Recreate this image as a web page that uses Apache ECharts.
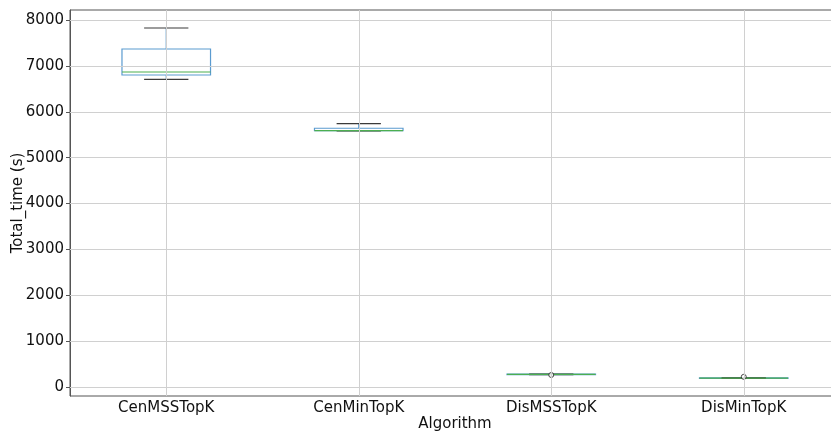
<!DOCTYPE html>
<html>
<head>
<meta charset="utf-8">
<script src="https://cdn.jsdelivr.net/npm/echarts@6/dist/echarts.min.js"></script>
<style>
  html, body { margin: 0; padding: 0; background: #fff; }
  #chart { width: 831px; height: 432px; }
</style>
</head>
<body>
<div id="chart"></div>
<script>
// Total run time per algorithm (seconds), five-number summaries
const categories = ['CenMSSTopK', 'CenMinTopK', 'DisMSSTopK', 'DisMinTopK'];
const lowerWhisker = [6707, 5583, 268, 190];
const q1 = [6801, 5588, 272, 193];
const median = [6867, 5590, 276, 195];
const q3 = [7368, 5640, 280, 198];
const upperWhisker = [7826, 5740, 284, 201];
// outlier points: [category index, value]
const outliers = [[2, 262], [3, 222]];
const yTicks = [0, 1000, 2000, 3000, 4000, 5000, 6000, 7000, 8000];

const FONT = 'DejaVu Sans';
const BOX_COLOR = '#5b9bd0';
const MEDIAN_COLOR = '#4caf50';
const CAP_COLOR = '#3a3a3a';
const GRID_COLOR = '#d0d0d0';

const boxData = categories.map((c, i) => [i, lowerWhisker[i], q1[i], median[i], q3[i], upperWhisker[i]]);

function renderBox(params, api) {
  const idx = api.value(0);
  const band = api.size([1, 0])[0];
  const half = band * 0.23;
  const capHalf = band * 0.115;
  const lo = api.coord([idx, api.value(1)]);
  const b1 = api.coord([idx, api.value(2)]);
  const md = api.coord([idx, api.value(3)]);
  const b3 = api.coord([idx, api.value(4)]);
  const hi = api.coord([idx, api.value(5)]);
  const x = lo[0];
  const line = (x1, y1, x2, y2, color) => ({
    type: 'line',
    shape: { x1, y1, x2, y2 },
    style: { stroke: color, lineWidth: 1.2 }
  });
  return {
    type: 'group',
    children: [
      line(x, b3[1], x, hi[1], BOX_COLOR),
      line(x, b1[1], x, lo[1], BOX_COLOR),
      {
        type: 'rect',
        shape: { x: x - half, y: b3[1], width: half * 2, height: Math.max(b1[1] - b3[1], 0.5) },
        style: { fill: 'none', stroke: BOX_COLOR, lineWidth: 1.2 }
      },
      line(x - capHalf, hi[1], x + capHalf, hi[1], CAP_COLOR),
      line(x - capHalf, lo[1], x + capHalf, lo[1], CAP_COLOR),
      line(x - half, md[1], x + half, md[1], MEDIAN_COLOR)
    ]
  };
}

const chart = echarts.init(document.getElementById('chart'), null, { renderer: 'canvas' });
chart.setOption({
  animation: false,
  backgroundColor: '#ffffff',
  grid: {
    left: 70, right: -9, top: 10, bottom: 36,
    containLabel: false,
    outerBoundsMode: 'none',
    show: true, borderColor: '#555', borderWidth: 1, backgroundColor: 'transparent'
  },
  xAxis: {
    type: 'category',
    data: categories,
    boundaryGap: true,
    name: 'Algorithm',
    nameLocation: 'middle',
    nameGap: 21,
    nameMoveOverlap: false,
    nameTextStyle: { fontFamily: FONT, fontSize: 15, color: '#111' },
    axisLine: { show: true, lineStyle: { color: '#555' } },
    axisTick: { show: true, alignWithLabel: true, length: 4, lineStyle: { color: '#555' } },
    axisLabel: { fontFamily: FONT, fontSize: 15, color: '#111', margin: 5 },
    splitLine: { show: false }
  },
  yAxis: {
    type: 'value',
    min: -196,
    max: 8218,
    name: 'Total_time (s)',
    nameLocation: 'middle',
    nameGap: 44,
    nameMoveOverlap: false,
    nameTextStyle: { fontFamily: FONT, fontSize: 15, color: '#111' },
    axisLine: { show: true, lineStyle: { color: '#555' } },
    axisTick: { show: true, length: 4, customValues: yTicks, lineStyle: { color: '#555' } },
    axisLabel: {
      fontFamily: FONT, fontSize: 15, color: '#111', margin: 6,
      customValues: yTicks,
      formatter: v => String(v)
    },
    splitLine: { show: false }
  },
  series: [
    {
      type: 'custom',
      name: 'grid',
      silent: true,
      data: [],
      markLine: {
        silent: true,
        symbol: 'none',
        label: { show: false },
        lineStyle: { color: GRID_COLOR, type: 'solid', width: 1 },
        data: categories.map(c => ({ xAxis: c })).concat(yTicks.map(v => ({ yAxis: v })))
      },
      renderItem: () => null,
      z: 1
    },
    {
      type: 'custom',
      name: 'box',
      renderItem: renderBox,
      encode: { x: 0, y: [1, 2, 3, 4, 5] },
      data: boxData,
      z: 3
    },
    {
      type: 'scatter',
      name: 'outliers',
      data: outliers,
      symbol: 'circle',
      symbolSize: 5,
      itemStyle: { color: '#ffffff', borderColor: '#222', borderWidth: 1 },
      z: 4
    }
  ]
});
</script>
</body>
</html>
